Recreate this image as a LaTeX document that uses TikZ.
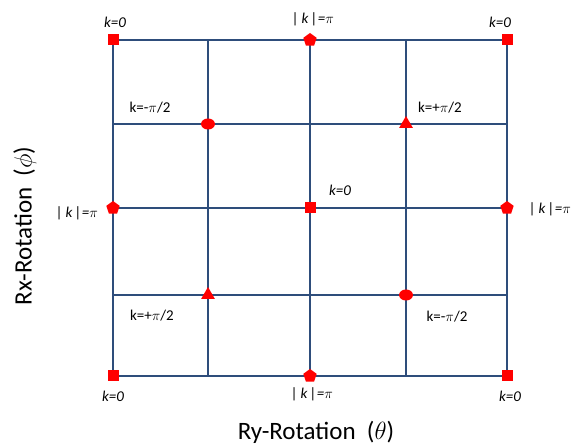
\documentclass[tikz,border=0pt]{standalone}
\usepackage{fontspec}
\setmainfont{Carlito}
\usetikzlibrary{shapes.geometric}
\definecolor{gridblue}{HTML}{2E4D7B}
\definecolor{markred}{HTML}{FF0000}

\begin{document}
\begin{tikzpicture}[x=1pt, y=1pt,
    gridline/.style={gridblue, line width=2pt},
    sqmark/.style={fill=markred, minimum size=11pt, inner sep=0pt},
    pentmark/.style={regular polygon, regular polygon sides=5, fill=markred, minimum size=14pt, inner sep=0pt},
    ovalmark/.style={ellipse, fill=markred, minimum width=14pt, minimum height=11pt, inner sep=0pt},
    trimark/.style={regular polygon, regular polygon sides=3, fill=markred, minimum size=16pt, inner sep=0pt},
    klabel/.style={font=\fontsize{15}{17}\selectfont},
    axislabel/.style={font=\fontsize{25}{29}\selectfont}]
    \useasboundingbox (0,0) rectangle (571,447);

    % grid points
    \foreach \x [count=\i] in {113,208,310,406,507}
        \foreach \y [count=\j] in {407,323,239,152,71}
            \coordinate (p\i\j) at (\x,\y);

    % grid lines
    \foreach \i in {1,...,5}
        \draw[gridline] (p\i1) -- (p\i5);
    \foreach \j in {1,...,5}
        \draw[gridline] (p1\j) -- (p5\j);

    % k=0 points
    \node[sqmark] (c1) at (p11) {};
    \node[sqmark] (c2) at (p51) {};
    \node[sqmark] (c3) at (p15) {};
    \node[sqmark] (c4) at (p55) {};
    \node[sqmark] (c0) at (p33) {};

    % |k|=pi points
    \node[pentmark] (e1) at (p31) {};
    \node[pentmark] (e2) at (p13) {};
    \node[pentmark] (e3) at (p53) {};
    \node[pentmark] (e4) at (p35) {};

    % k=-pi/2 and k=+pi/2 points
    \node[ovalmark] (m1) at (p22) {};
    \node[ovalmark] (m2) at (p44) {};
    \node[trimark] (t1) at (p42) {};
    \node[trimark] (t2) at (p24) {};

    % labels
    \node[klabel] (lc1) at (115,425) {\itshape k=0};
    \node[klabel] (lc2) at (500,425) {\itshape k=0};
    \node[klabel] (lc3) at (113,51) {\itshape k=0};
    \node[klabel] (lc4) at (510,51) {\itshape k=0};
    \node[klabel] (lc0) at (340,257) {\itshape k=0};
    \node[klabel] (le1) at (313,428) {\itshape |\,k\,|=$\pi$};
    \node[klabel] (le2) at (77,234) {\itshape |\,k\,|=$\pi$};
    \node[klabel] (le3) at (550,238) {\itshape |\,k\,|=$\pi$};
    \node[klabel] (le4) at (312,53) {\itshape |\,k\,|=$\pi$};
    \node[klabel] (lm1) at (150,339) {k=-$\pi$/2};
    \node[klabel] (lm2) at (447,130) {k=-$\pi$/2};
    \node[klabel] (lt1) at (440,339) {k=+$\pi$/2};
    \node[klabel] (lt2) at (152,131) {k=+$\pi$/2};

    % axes
    \node[axislabel] (ry) at (316,15) {Ry-Rotation\ \ ($\theta$)};
    \node[axislabel, rotate=90] (rx) at (25,221) {Rx-Rotation\ \ ($\phi$)};
\end{tikzpicture}
\end{document}
